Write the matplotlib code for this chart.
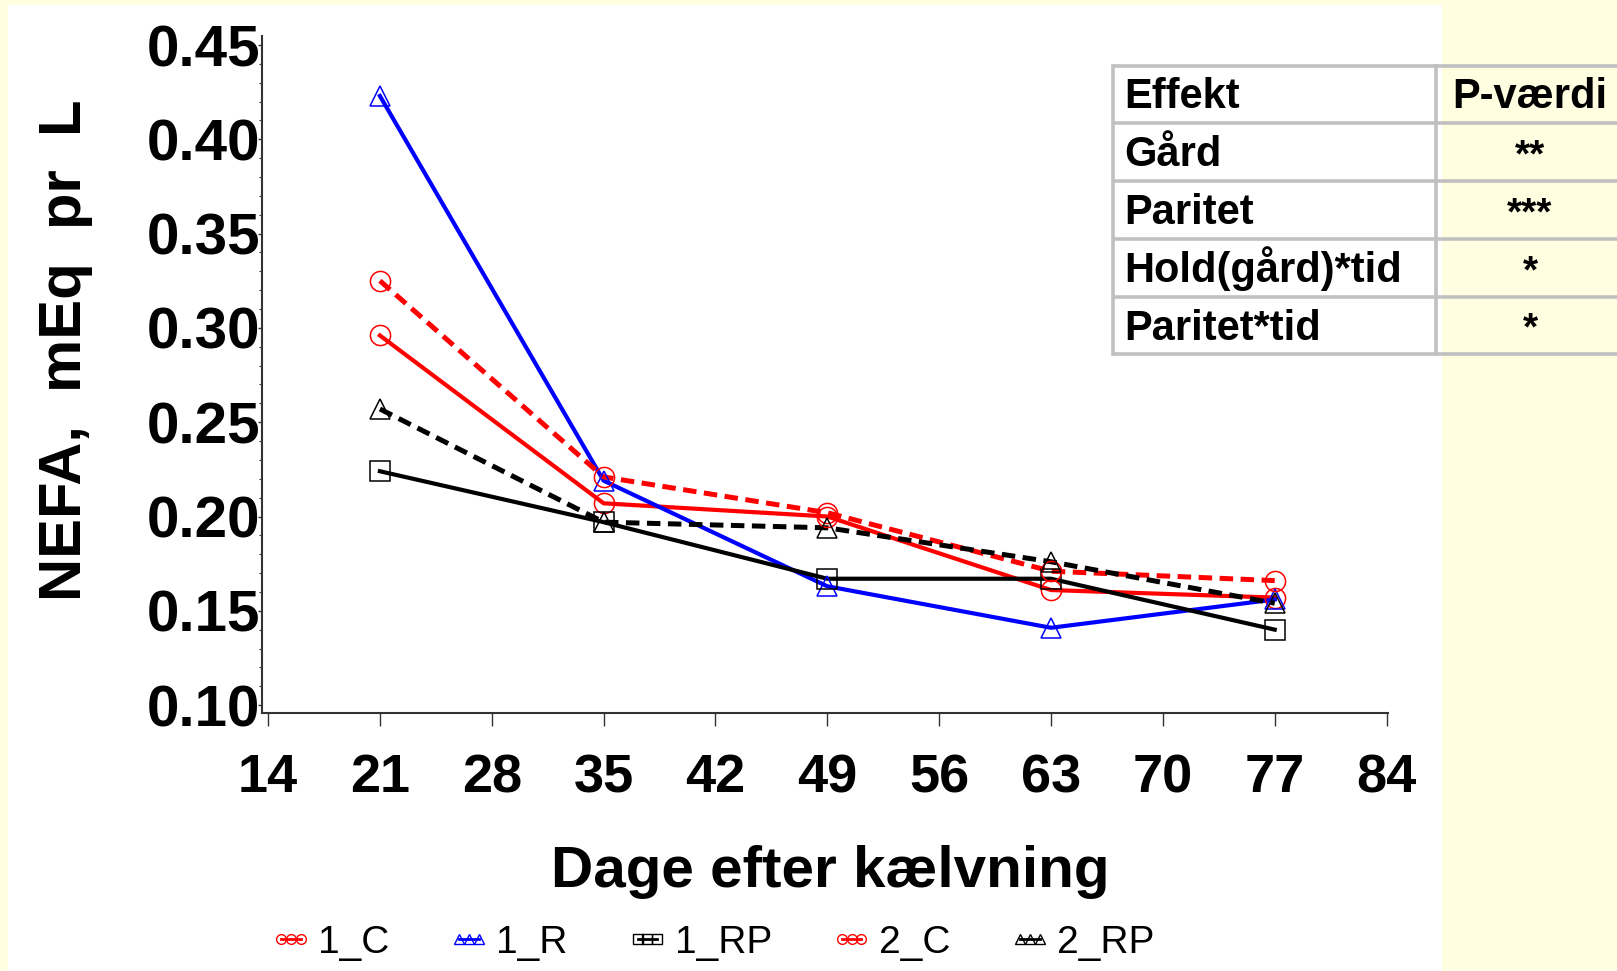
import matplotlib
matplotlib.use("Agg")
import matplotlib.pyplot as plt
from matplotlib.lines import Line2D
from matplotlib.patches import Rectangle

# data
days = [21, 35, 49, 63, 77]
c1 = [0.296, 0.207, 0.200, 0.161, 0.157]
r1 = [0.423, 0.219, 0.163, 0.141, 0.156]
rp1 = [0.224, 0.197, 0.167, 0.167, 0.140]
c2 = [0.325, 0.221, 0.202, 0.171, 0.166]
rp2 = [0.257, 0.197, 0.194, 0.176, 0.154]

series_names = ["1_C", "1_R", "1_RP", "2_C", "2_RP"]
series_vals = [c1, r1, rp1, c2, rp2]
series_color = ["#ff0000", "#0000ff", "#000000", "#ff0000", "#000000"]
series_marker = ["o", "^", "s", "o", "^"]
series_dashed = [False, False, False, True, True]

xticks = [14, 21, 28, 35, 42, 49, 56, 63, 70, 77, 84]
yticks = [0.10, 0.15, 0.20, 0.25, 0.30, 0.35, 0.40, 0.45]

effects = ["Effekt", "Gård", "Paritet", "Hold(gård)*tid", "Paritet*tid"]
pvals = ["P-værdi", "**", "***", "*", "*"]

W, H = 1617, 971
plt.rcParams['font.family'] = ['Liberation Sans', 'DejaVu Sans']

fig = plt.figure(figsize=(W / 100, H / 100), dpi=100)
fig.patch.set_facecolor("#fffee0")

# background white panel (pixel coords)
bg = fig.add_axes([0, 0, 1, 1], zorder=0)
bg.set_xlim(0, W)
bg.set_ylim(H, 0)
bg.axis("off")
bg.add_patch(Rectangle((8, 5), 1434, 980, facecolor="white", edgecolor="none"))

# main axes
ax = fig.add_axes([262 / W, 1 - 713 / H, (1388 - 262) / W, (713 - 36) / H], zorder=1)
ax.set_facecolor("none")
for name, vals, col, mk, dashed in zip(series_names, series_vals, series_color,
                                         series_marker, series_dashed):
    if dashed:
        ax.plot(days, vals, color=col, lw=3.6, dashes=(2.7, 1.5), zorder=3)
    else:
        ax.plot(days, vals, color=col, lw=3.0, zorder=3)
    ax.plot(days, vals, linestyle="none", marker=mk, markersize=14.5,
            markerfacecolor="none", markeredgecolor=col, markeredgewidth=1.1, zorder=4)

ax.set_xlim(13.62, 84.09)
ax.set_ylim(0.0958, 0.4548)
ax.set_xticks(xticks)
ax.set_xticklabels([str(t) for t in xticks])
ax.set_yticks(yticks)
ax.set_yticklabels(["%.2f" % t for t in yticks])
ax.set_yticks([v / 100 for v in range(10, 46)], minor=True)
for s in ["top", "right"]:
    ax.spines[s].set_visible(False)
for s in ["left", "bottom"]:
    ax.spines[s].set_color("#333333")
    ax.spines[s].set_linewidth(1.5)
ax.tick_params(axis="y", which="major", length=3, width=1, pad=-1.5,
               labelsize=42, colors="#333333", labelcolor="black")
ax.tick_params(axis="y", which="minor", length=2, width=0.8, colors="#333333")
ax.tick_params(axis="x", which="major", length=9, width=1, pad=20,
               labelsize=39, colors="#333333", labelcolor="black")
for lab in ax.get_xticklabels() + ax.get_yticklabels():
    lab.set_fontweight("bold")

fig.text(66 / W, 1 - 350 / H, "NEFA,  mEq  pr  L", rotation=90, ha="center",
         va="center", fontsize=43, fontweight="bold")
fig.text(830 / W, 1 - 887 / H, "Dage efter kælvning", ha="center",
         va="baseline", fontsize=42, fontweight="bold")

# legend
handles = []
for name, col, mk, dashed in zip(series_names, series_color, series_marker, series_dashed):
    handles.append(Line2D([0], [0], color=col, lw=2, marker=mk, markersize=7,
                          markerfacecolor="none", markeredgecolor=col,
                          markeredgewidth=1))
leg = fig.legend(handles, series_names, loc="center", ncol=5,
                 bbox_to_anchor=(712 / W, 1 - 943 / H), frameon=False,
                 numpoints=3, handlelength=1.1, handletextpad=0.15,
                 columnspacing=1.5, prop={"size": 28})

# table of effects
tb = fig.add_axes([0, 0, 1, 1], zorder=2)
tb.set_xlim(0, W)
tb.set_ylim(H, 0)
tb.axis("off")
rows = [66, 123, 181, 239, 297, 354]
grey = "#c0c0c0"
for yy in rows:
    tb.plot([1113, W + 5], [yy, yy], color=grey, lw=2.6, solid_capstyle="butt")
tb.plot([1113, 1113], [rows[0], rows[-1]], color=grey, lw=2.6)
tb.plot([1436, 1436], [rows[0], rows[-1]], color=grey, lw=2.6)
for i in range(len(effects)):
    base = (rows[i] + rows[i + 1]) / 2 + 14
    tb.text(1124, base, effects[i], ha="left", va="baseline", fontsize=30,
            fontweight="bold")
    tb.text(1530, base, pvals[i], ha="center", va="baseline",
            fontsize=30 if i == 0 else 28, fontweight="bold")

fig.savefig("out.png", dpi=100, facecolor=fig.get_facecolor())
